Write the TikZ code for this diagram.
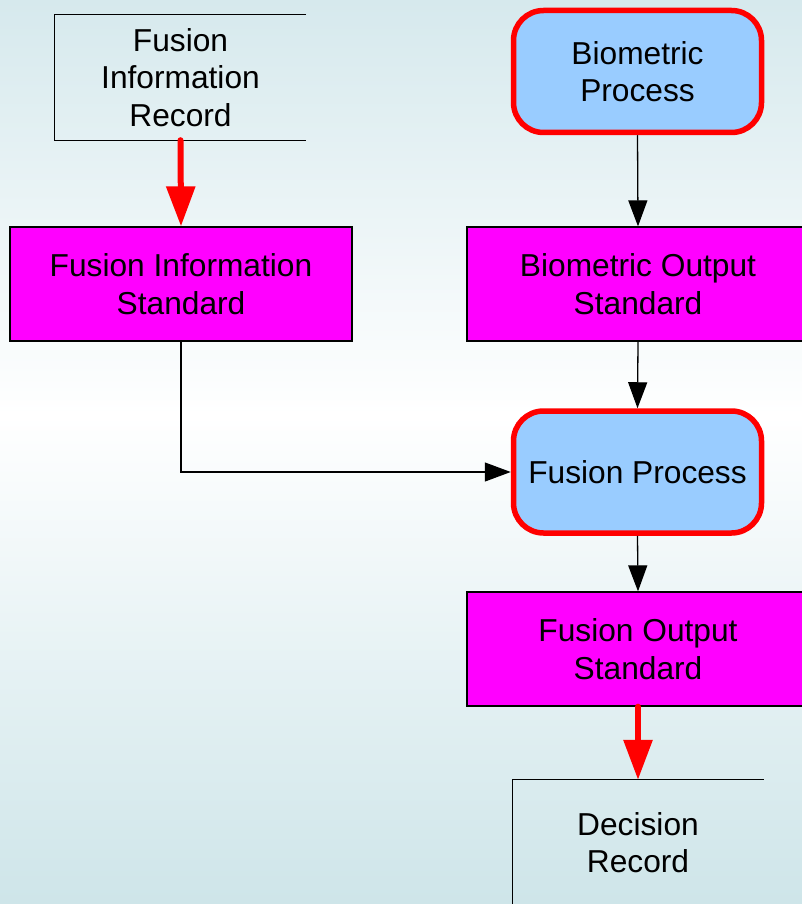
\documentclass[tikz,border=0pt]{standalone}
\usepackage{fontspec}
\setmainfont{Liberation Sans}
\usetikzlibrary{arrows.meta}

\definecolor{bgtop}{RGB}{214,233,237}
\definecolor{bgbot}{RGB}{206,229,233}
\definecolor{procfill}{RGB}{153,204,255}
\definecolor{stdfill}{RGB}{255,0,255}
\definecolor{hot}{RGB}{255,0,0}

% background: pale blue at top and bottom, white in the middle
\pgfdeclareverticalshading{pagebg}{100bp}{color(0bp)=(bgbot); color(25bp)=(bgbot); color(52bp)=(white); color(75bp)=(bgtop); color(100bp)=(bgtop)}

\tikzset{
  lbl/.style={font=\fontsize{31.7}{37.5}\selectfont, align=center, inner sep=0pt},
  record/.style={lbl, minimum width=251pt, minimum height=125pt},
  procbox/.style={lbl, draw=hot, line width=5.5pt, fill=procfill, rounded corners=30pt,
                  minimum width=248pt, minimum height=122pt},
  stdbox/.style={lbl, draw=black, line width=1.3pt, fill=stdfill,
                 minimum width=342pt, minimum height=114pt},
  flow/.style={draw=black, line width=1.3pt, -{Triangle[length=26pt, width=19pt]}},
  hotflow/.style={draw=hot, line width=6pt, line cap=round, -{Triangle[length=40pt, width=28pt]}},
  edge/.style={draw=black, line width=1.3pt},
}

\begin{document}
\begin{tikzpicture}[x=1pt, y=-1pt]
  \useasboundingbox (0,0) rectangle (802,904);
  \shade[shading=pagebg] (0,0) rectangle (802,904);

  % records (open on the right)
  \node[record] (fir) at (180.5,77.5) {Fusion\\Information\\Record};
  \node[record] (dr) at (638,842.5) {Decision\\Record};
  \draw[edge] (fir.north east) -- (fir.north west) -- (fir.south west) -- (fir.south east);
  \draw[edge] (dr.north east) -- (dr.north west) -- (dr.south west);

  % processes
  \node[procbox] (bp) at (637.5,71.5) {Biometric\\Process};
  \node[procbox] (fp) at (637.5,472) {Fusion Process};

  % standards
  \node[stdbox] (fis) at (181,284) {Fusion Information\\Standard};
  \node[stdbox] (bos) at (638,284) {Biometric Output\\Standard};
  \node[stdbox] (fos) at (638,649) {Fusion Output\\Standard};

  % connectors
  \draw[hotflow] (fir.south) -- (fis.north);
  \draw[flow] (bp.south) -- (bos.north);
  \draw[flow] (bos.south) -- (fp.north);
  \draw[flow] (fis.south) |- (fp.west);
  \draw[flow] (fp.south) -- (fos.north);
  \draw[hotflow] (fos.south) -- (dr.north);
\end{tikzpicture}
\end{document}
